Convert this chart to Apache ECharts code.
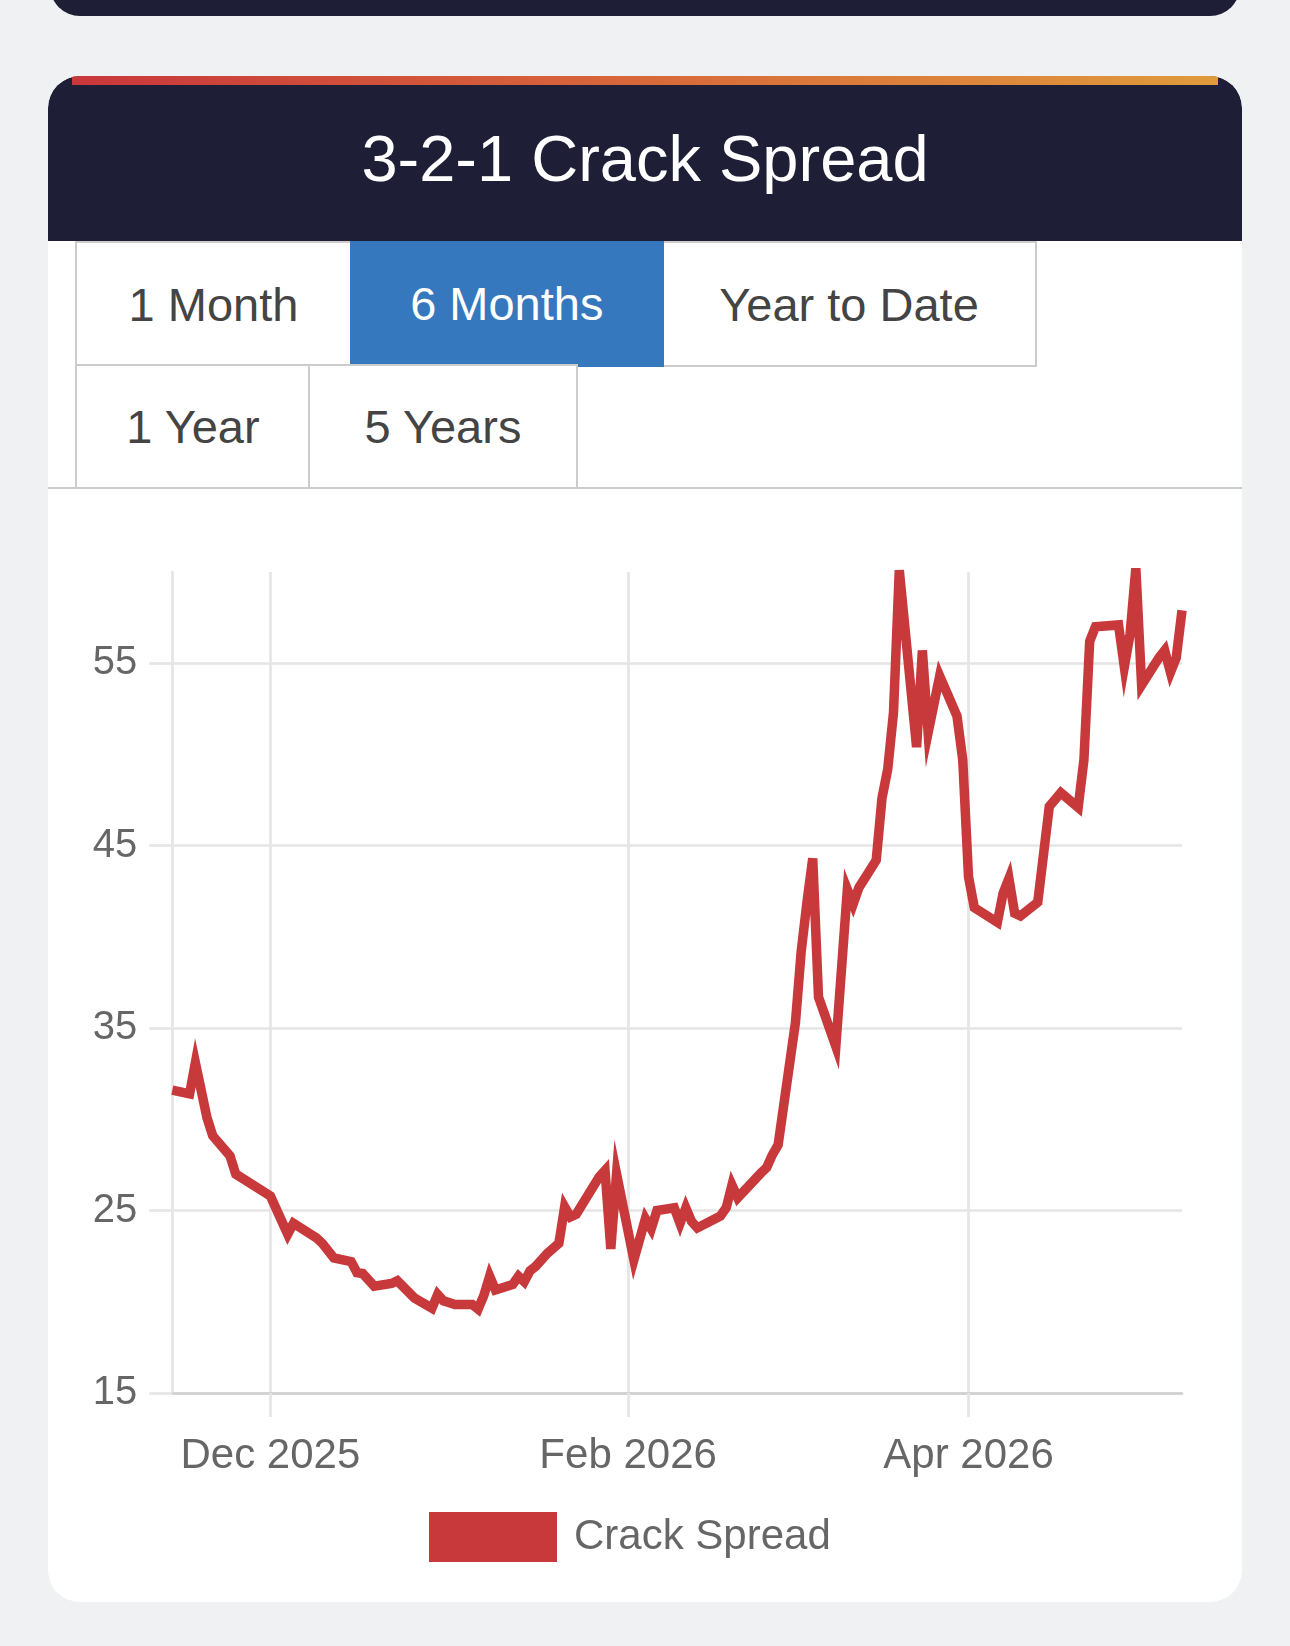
<!DOCTYPE html>
<html>
<head>
<meta charset="utf-8">
<script src="https://cdn.jsdelivr.net/npm/echarts@6/dist/echarts.min.js"></script>
<style>
  html, body { margin: 0; padding: 0; }
  body {
    width: 1290px; height: 1646px; position: relative; overflow: hidden;
    background: #f0f1f3; font-family: "Liberation Sans", Arial, sans-serif;
  }
  .prev { position: absolute; left: 50px; top: -60px; width: 1190px; height: 76px;
    background: #1e1f36; border-radius: 30px; }
  .card { position: absolute; left: 48px; top: 76px; width: 1194px; height: 1526px;
    background: #fff; border-radius: 32px; overflow: hidden; }
  .head { position: absolute; left: 0; top: 0; width: 1194px; height: 165px;
    background: #1e1f36; border-radius: 32px 32px 0 0; }
  .stripe { position: absolute; left: 24px; right: 24px; top: 0; height: 9px;
    background: linear-gradient(90deg, #c9373b, #d8693a 50%, #e09b3c); }
  .title { position: absolute; left: 0; right: 0; top: 0; height: 165px;
    display: flex; align-items: center; justify-content: center;
    color: #fff; font-size: 65px; }
  .tab { position: absolute; box-sizing: border-box; border: 2.7px solid #ccc;
    display: flex; align-items: center; justify-content: center;
    font-size: 47px; color: #444; background: #fff; }
  .tab.on { border: none; background: #3578be; color: #fff; }
  .rule { position: absolute; left: 48px; top: 486.6px; width: 1194px; height: 2.7px; background: #ccc; }
  #chart { position: absolute; left: 48px; top: 490px; width: 1194px; height: 1110px; }
</style>
</head>
<body>
<div class="prev"></div>
<div class="card">
  <div class="head"><div class="stripe"></div><div class="title">3-2-1 Crack Spread</div></div>
</div>
<div class="tab" style="left:75px;top:241px;width:277px;height:126px;">1 Month</div>
<div class="tab" style="left:661px;top:241px;width:376px;height:126px;">Year to Date</div>
<div class="tab on" style="left:349.6px;top:240.7px;width:314.4px;height:126px;">6 Months</div>
<div class="tab" style="left:75px;top:364px;width:236px;height:125px;">1 Year</div>
<div class="tab" style="left:308px;top:364px;width:270px;height:125px;">5 Years</div>
<div class="rule"></div>
<div id="chart"></div>
<script>
// daily 3-2-1 crack spread, $/bbl
var dates = [
  '2025-11-14','2025-11-17','2025-11-18','2025-11-20','2025-11-21','2025-11-24','2025-11-25',
  '2025-12-01','2025-12-02','2025-12-04','2025-12-05','2025-12-09','2025-12-10','2025-12-12',
  '2025-12-15','2025-12-16','2025-12-17','2025-12-19','2025-12-22','2025-12-23','2025-12-26',
  '2025-12-29','2025-12-30','2025-12-31','2026-01-02','2026-01-05','2026-01-06','2026-01-07',
  '2026-01-08','2026-01-09','2026-01-12','2026-01-13','2026-01-14','2026-01-15','2026-01-16',
  '2026-01-18','2026-01-20','2026-01-21','2026-01-22','2026-01-23','2026-01-27','2026-01-28',
  '2026-01-29','2026-01-30','2026-02-02','2026-02-04','2026-02-05','2026-02-06','2026-02-09',
  '2026-02-10','2026-02-11','2026-02-12','2026-02-13','2026-02-17','2026-02-18','2026-02-19',
  '2026-02-20','2026-02-24','2026-02-25','2026-02-26','2026-02-27','2026-03-02','2026-03-03',
  '2026-03-04','2026-03-05','2026-03-06','2026-03-09','2026-03-11','2026-03-12','2026-03-13',
  '2026-03-16','2026-03-17','2026-03-18','2026-03-19','2026-03-20','2026-03-23','2026-03-24',
  '2026-03-25','2026-03-27','2026-03-30','2026-03-31','2026-04-01','2026-04-02','2026-04-06',
  '2026-04-07','2026-04-08','2026-04-09','2026-04-10','2026-04-13','2026-04-15','2026-04-17',
  '2026-04-20','2026-04-21','2026-04-22','2026-04-23','2026-04-27','2026-04-28','2026-04-29',
  '2026-04-30','2026-05-01','2026-05-04','2026-05-05','2026-05-06','2026-05-07','2026-05-08'
];
var spread = [
  31.6, 31.4, 33.1, 30.1, 29.1, 28.0, 27.0,
  25.8, 25.1, 23.7, 24.3, 23.5, 23.2, 22.4,
  22.2, 21.6, 21.55, 20.85, 21.0, 21.15, 20.2,
  19.65, 20.4, 20.05, 19.85, 19.85, 19.6, 20.35,
  21.4, 20.65, 20.95, 21.4, 21.1, 21.7, 21.95,
  22.65, 23.2, 25.2, 24.65, 24.8, 26.85, 27.2,
  22.9, 27.0, 22.3, 24.55, 24.0, 25.0, 25.15,
  24.3, 25.15, 24.4, 24.05, 24.7, 25.15, 26.4,
  25.7, 27.05, 27.35, 28.05, 28.6, 35.3, 39.2,
  41.9, 44.3, 36.7, 34.0, 42.6, 41.8, 42.7,
  44.2, 47.6, 49.2, 52.3, 60.1, 50.4, 55.7,
  51.2, 54.3, 52.1, 49.7, 43.3, 41.6, 40.8,
  42.4, 43.2, 41.3, 41.15, 41.9, 47.15, 47.9,
  47.1, 49.7, 56.2, 57.0, 57.1, 54.8, 56.6,
  60.2, 53.8, 55.3, 55.7, 54.5, 55.3, 57.9
];
var tickDates = ['2025-12-01', '2026-02-01', '2026-04-01'];
var tickLabels = ['Dec 2025', 'Feb 2026', 'Apr 2026'];
var yTicks = [15, 25, 35, 45, 55];

function ts(s) {
  var p = s.split('-').map(Number);
  return new Date(p[0], p[1] - 1, p[2]).getTime();
}
var tickTs = tickDates.map(ts);

var myChart = echarts.init(document.getElementById('chart'));

var gridColor = '#e5e5e5';
var font = '"Liberation Sans", Arial, sans-serif';

var option = {
  animation: false,
  grid: { left: 124.3, right: 60, top: 82, bottom: 207 },
  legend: {
    data: ['Crack Spread'],
    left: 381, top: 1022, padding: 0,
    icon: 'rect', itemWidth: 128, itemHeight: 50,
    textStyle: { fontSize: 42, color: '#666', fontFamily: font, padding: [12, 0, 0, 12] }
  },
  xAxis: {
    type: 'value',
    min: ts(dates[0]),
    max: ts(dates[dates.length - 1]),
    axisLine: { show: true, lineStyle: { color: '#cfcfcf', width: 2.7 } },
    axisTick: { show: true, length: 24, customValues: tickTs, lineStyle: { color: gridColor, width: 2.7 } },
    axisLabel: {
      customValues: tickTs, margin: 42, fontSize: 42, color: '#666', fontFamily: font,
      formatter: function (v) {
        var i = tickTs.indexOf(v);
        return i >= 0 ? tickLabels[i] : '';
      }
    },
    splitLine: { show: true, lineStyle: { color: gridColor, width: 2.7 } }
  },
  yAxis: {
    type: 'value',
    min: 15, max: 60, interval: 10,
    axisLine: { show: true, lineStyle: { color: gridColor, width: 2.7 } },
    axisTick: { show: true, length: 23, customValues: yTicks, lineStyle: { color: gridColor, width: 2.7 } },
    axisLabel: {
      customValues: yTicks, margin: 35, fontSize: 40, color: '#666', fontFamily: font,
      formatter: function (v) { return v === 60 ? '' : String(v); }
    },
    splitLine: {
      show: true,
      lineStyle: { color: [gridColor, gridColor, gridColor, gridColor, gridColor, 'rgba(0,0,0,0)'], width: 2.7 }
    }
  },
  series: [{
    name: 'Crack Spread',
    type: 'line',
    showSymbol: false,
    clip: false,
    color: '#c8393c',
    lineStyle: { width: 9.5, color: '#c8393c', join: 'miter' },
    data: dates.map(function (d, i) { return [ts(d), spread[i]]; })
  }]
};

myChart.setOption(option);
</script>
</body>
</html>
